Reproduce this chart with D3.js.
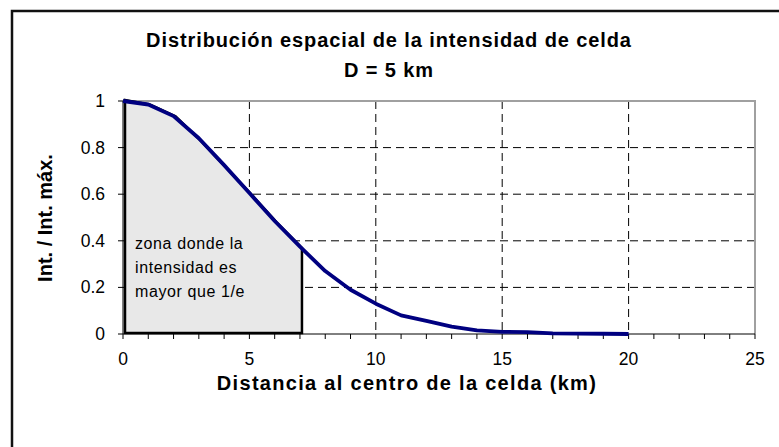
<!DOCTYPE html>
<html><head><meta charset="utf-8">
<script src="https://cdn.jsdelivr.net/npm/d3@7"></script>
<style>body{margin:0;background:#fff}svg{display:block}text{font-family:"Liberation Sans",Arial,sans-serif}</style>
</head><body>
<svg id="c" width="779" height="447"></svg>
<script>
const distance = [0,1,2,3,4,5,6,7,8,9,10,11,12,13,14,15,16,17,18,19,20];
const intensity = [1,0.985,0.935,0.84,0.725,0.605,0.485,0.375,0.27,0.19,0.13,0.08,0.056,0.032,0.016,0.009,0.008,0.003,0.002,0.001,0];
const zoneDistance = [0,1,2,3,4,5,6,7];
const zoneIntensity = [1,0.98,0.93,0.825,0.71,0.595,0.475,0.365];
const xTicks = [0,5,10,15,20,25];
const xMinorTicks = d3.range(0,26,1);
const yTicks = [0,0.2,0.4,0.6,0.8,1];
const titleLines = ["Distribución espacial de la intensidad de celda","D = 5 km"];
const xTitle = "Distancia al centro de la celda (km)";
const yTitle = "Int. / Int. máx.";
const noteLines = ["zona donde la","intensidad es","mayor que 1/e"];

const svg = d3.select("#c");
const L=123, R=755, T=101, B=334;
const x = d3.scaleLinear().domain([0,25]).range([L,R]);
const y = d3.scaleLinear().domain([0,1]).range([B,T]);

// outer border (only top and left visible)
svg.append("rect").attr("x",12).attr("y",11).attr("width",800).attr("height",460)
  .attr("fill","none").attr("stroke","#111").attr("stroke-width",2.5);

// gridlines
const g = svg.append("g");
g.selectAll("line.vg").data(xTicks.filter(d=>d>0&&d<25)).join("line")
  .attr("x1",d=>x(d)).attr("x2",d=>x(d)).attr("y1",T).attr("y2",B)
  .attr("stroke","#000").attr("stroke-width",1).attr("stroke-dasharray","8,5");
g.selectAll("line.hg").data(yTicks.filter(d=>d>0&&d<1)).join("line")
  .attr("x1",L).attr("x2",R).attr("y1",d=>y(d)).attr("y2",d=>y(d))
  .attr("stroke","#000").attr("stroke-width",1).attr("stroke-dasharray","8,5");

// plot frame top/right gray
svg.append("path").attr("d",`M${L},${T}H${R}V${B}`).attr("fill","none")
  .attr("stroke","#a0a0a0").attr("stroke-width",2);

// zone polygon
const zonePts = [[0,0]].concat(zoneDistance.map((d,i)=>[d,zoneIntensity[i]])).concat([[zoneDistance[zoneDistance.length-1],0]]);
svg.append("path")
  .attr("d", d3.line().x(d=>x(d[0])).y(d=>y(d[1]))(zonePts)+"Z")
  .attr("fill","#e8e8e8").attr("stroke","#000").attr("stroke-width",2.5)
  .attr("transform","translate(2,-1)");

// axes
const xAxis = svg.append("g").attr("transform",`translate(0,${B})`);
xAxis.append("line").attr("x1",L).attr("x2",R).attr("stroke","#000");
xAxis.selectAll("line.t").data(xMinorTicks).join("line")
  .attr("x1",d=>x(d)).attr("x2",d=>x(d)).attr("y1",0).attr("y2",5).attr("stroke","#000");
xAxis.selectAll("text").data(xTicks).join("text")
  .attr("x",d=>x(d)).attr("y",31).attr("text-anchor","middle")
  .attr("font-size",17.5).text(d=>d);

const yAxis = svg.append("g").attr("transform",`translate(${L},0)`);
yAxis.append("line").attr("y1",T).attr("y2",B).attr("stroke","#000");
yAxis.selectAll("line.t").data(yTicks).join("line")
  .attr("x1",-5).attr("x2",0).attr("y1",d=>y(d)).attr("y2",d=>y(d)).attr("stroke","#000");
yAxis.selectAll("text").data(yTicks).join("text")
  .attr("x",-18).attr("y",d=>y(d)+6).attr("text-anchor","end")
  .attr("font-size",17.5).text(d=>d);

// main curve
svg.append("path")
  .attr("d", d3.line().x((d,i)=>x(distance[i])).y(d=>y(d))(intensity))
  .attr("fill","none").attr("stroke","#000080").attr("stroke-width",3.8)
  .attr("stroke-linejoin","round");

// note
svg.append("g").selectAll("text").data(noteLines).join("text")
  .attr("x",135).attr("y",(d,i)=>249+i*24).attr("font-size",16).attr("letter-spacing",0.6)
  .attr("fill","#000").text(d=>d);

// titles
svg.append("g").selectAll("text").data(titleLines).join("text")
  .attr("x",389).attr("y",(d,i)=>47+i*30).attr("text-anchor","middle")
  .attr("font-size",20).attr("letter-spacing",0.9).attr("font-weight","bold").text(d=>d);
svg.append("text").attr("x",407).attr("y",390).attr("text-anchor","middle")
  .attr("font-size",20).attr("letter-spacing",1.3).attr("font-weight","bold").text(xTitle);
svg.append("text").attr("transform","translate(52,218) rotate(-90)").attr("text-anchor","middle")
  .attr("font-size",20).attr("font-weight","bold").text(yTitle);
</script>
</body></html>
